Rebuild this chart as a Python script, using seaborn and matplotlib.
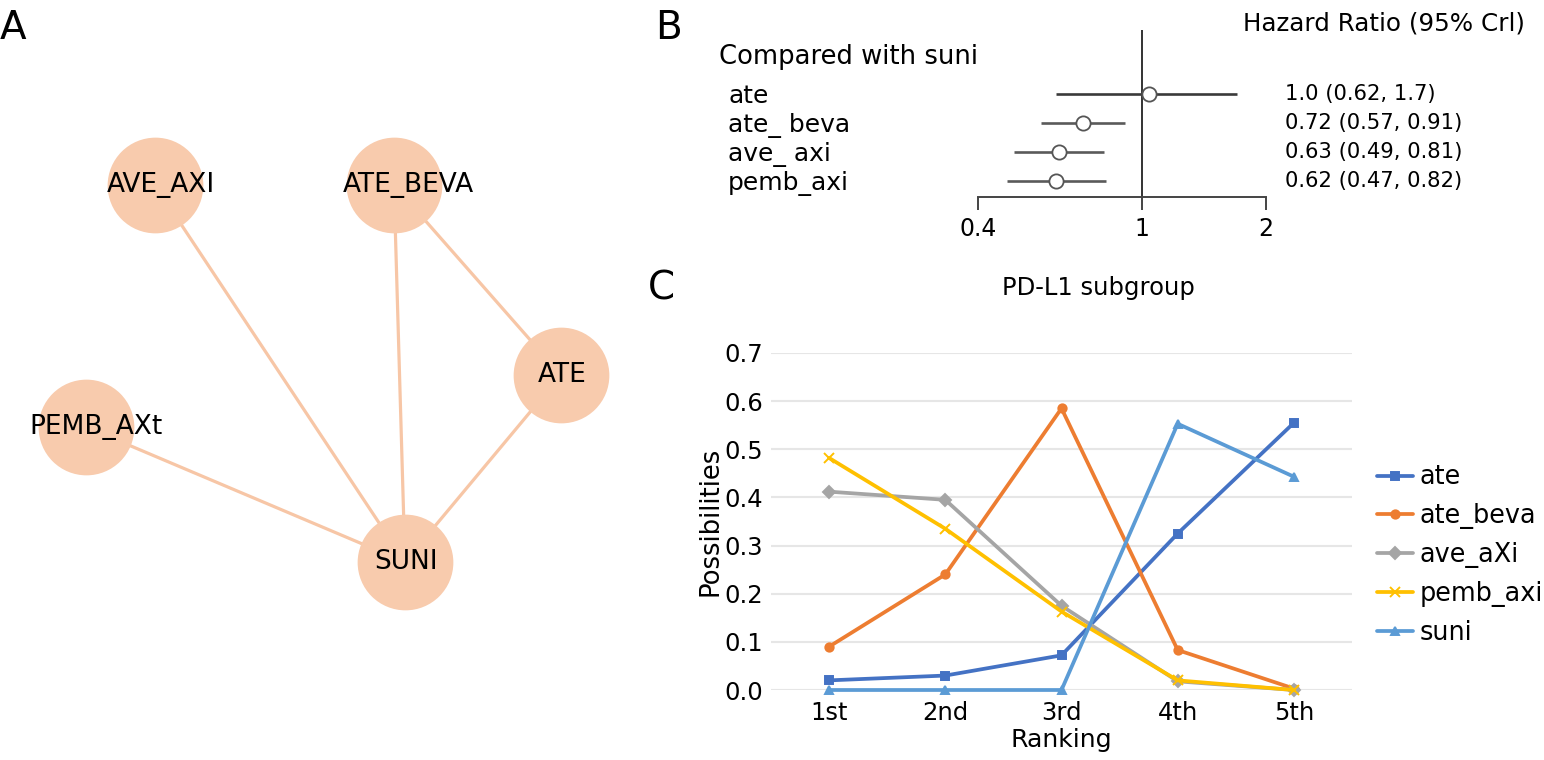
import numpy as np
import pandas as pd
import seaborn as sns
import matplotlib.pyplot as plt
from matplotlib import transforms
from matplotlib.colors import to_hex

# panel A: network of treatments (positions as laid out in the picture, pixels)
node_names = ['AVE_AXI', 'ATE_BEVA', 'ATE', 'PEMB_AXt', 'SUNI']
node_x = [155, 394, 561, 86, 405]
node_y = [185, 185, 375, 427, 562]
label_dx = [6, 14, 1, 10, 1]
edges = [('AVE_AXI', 'SUNI'), ('ATE_BEVA', 'SUNI'), ('ATE_BEVA', 'ATE'),
         ('ATE', 'SUNI'), ('PEMB_AXt', 'SUNI')]

# panel B: hazard ratios vs suni
hr_names = ['ate', 'ate_ beva', 'ave_ axi', 'pemb_axi']
hr = [1.04, 0.72, 0.63, 0.62]
hr_lo = [0.62, 0.57, 0.49, 0.47]
hr_hi = [1.7, 0.91, 0.81, 0.82]
hr_text = ['1.0 (0.62, 1.7)', '0.72 (0.57, 0.91)', '0.63 (0.49, 0.81)', '0.62 (0.47, 0.82)']
hr_ticks = [0.4, 1, 2]

# panel C: ranking probabilities
rank_labels = ['1st', '2nd', '3rd', '4th', '5th']
ate = [0.020, 0.030, 0.072, 0.325, 0.555]
ate_beva = [0.090, 0.240, 0.585, 0.083, 0.003]
ave_axi = [0.412, 0.395, 0.175, 0.018, 0.0]
pemb_axi = [0.482, 0.335, 0.163, 0.020, 0.0]
suni = [0.0, 0.0, 0.0, 0.553, 0.443]
series_names = ['ate', 'ate_beva', 'ave_aXi', 'pemb_axi', 'suni']
series_vals = [ate, ate_beva, ave_axi, pemb_axi, suni]

sns.set_style('white')
plt.rcParams['font.family'] = ['DejaVu Sans']
plt.rcParams['text.color'] = 'black'
plt.rcParams['axes.labelcolor'] = 'black'
plt.rcParams['xtick.color'] = 'black'
plt.rcParams['ytick.color'] = 'black'

W, H = 1544, 760
fig = plt.figure(figsize=(W / 100, H / 100), dpi=100)

# ---------------- A ----------------
ax_a = fig.add_axes([0, 0, 640 / W, 1])
pos = {n: (x, y) for n, x, y in zip(node_names, node_x, node_y)}
for a, b in edges:
    ax_a.plot([pos[a][0], pos[b][0]], [pos[a][1], pos[b][1]],
              color='#F7C6A6', lw=2.3, zorder=1, solid_capstyle='round')
sns.scatterplot(x=node_x, y=node_y, s=4750, color='#F8CBAD', linewidth=0,
                ax=ax_a, zorder=2, legend=False)
for n, x, y, dx in zip(node_names, node_x, node_y, label_dx):
    ax_a.text(x + dx, y, n, ha='center', va='center', fontsize=19, zorder=3)
ax_a.set_xlim(0, 640)
ax_a.set_ylim(H, 0)
ax_a.axis('off')
fig.text(0.0, 1 - 28 / H, 'A', fontsize=28, ha='left', va='center')

# ---------------- B ----------------
b_left, b_right, b_top, b_bot = 978, 1266, 30, 197
ax_b = fig.add_axes([b_left / W, 1 - b_bot / H, (b_right - b_left) / W, (b_bot - b_top) / H])
row0, step = 94, 29
rows = np.arange(len(hr))
ax_b.set_xscale('log')
ax_b.axvline(1, color='#333333', lw=1.4, zorder=1)
line_cols = ['#3a3a3a', '#5a5a5a', '#5a5a5a', '#5a5a5a']
ax_b.hlines(rows, hr_lo, hr_hi, colors=line_cols, lw=1.9, zorder=2)
sns.scatterplot(x=hr, y=rows, s=105, color='white', edgecolor='#555555',
                linewidth=1.3, ax=ax_b, zorder=3, legend=False)
ax_b.set_xlim(0.4, 2)
ax_b.set_ylim((b_bot - row0) / step, (b_top - row0) / step)
ax_b.set_xticks(hr_ticks)
ax_b.set_xticklabels([str(t) for t in hr_ticks])
ax_b.xaxis.set_minor_locator(plt.NullLocator())
ax_b.set_yticks([])
for s in ['left', 'right', 'top']:
    ax_b.spines[s].set_visible(False)
ax_b.spines['bottom'].set_color('#444444')
ax_b.spines['bottom'].set_linewidth(1.4)
ax_b.tick_params(axis='x', bottom=True, direction='out', length=9.4, width=1.4,
                 color='#444444', labelsize=17, pad=5)
ax_b.set_facecolor('none')
blend = transforms.blended_transform_factory(fig.transFigure, ax_b.transData)
for r, name, txt in zip(rows, hr_names, hr_text):
    ax_b.text(728 / W, r + 0.08, name, transform=blend, ha='left', va='center', fontsize=18)
    ax_b.text(1285 / W, r, txt, transform=blend, ha='left', va='center', fontsize=15.2)
fig.text(719 / W, 1 - 57 / H, 'Compared with suni', fontsize=18.6, ha='left', va='center')
fig.text(1525 / W, 1 - 23 / H, 'Hazard Ratio (95% Crl)', fontsize=17.7, ha='right', va='center')
fig.text(655 / W, 1 - 28 / H, 'B', fontsize=28, ha='left', va='center')

# ---------------- C ----------------
c_left, c_right, c_top, c_bot = 771, 1352, 353, 690
ax_c = fig.add_axes([c_left / W, 1 - c_bot / H, (c_right - c_left) / W, (c_bot - c_top) / H])
xs = np.arange(len(rank_labels))
df = pd.DataFrame({
    'Ranking': np.tile(xs, len(series_names)),
    'Possibilities': np.concatenate(series_vals),
    'treatment': np.repeat(series_names, len(rank_labels)),
})
palette = {'ate': '#4472C4', 'ate_beva': '#ED7D31', 'ave_aXi': '#A5A5A5',
           'pemb_axi': '#FFC000', 'suni': '#5B9BD5'}
markers = {'ate': 's', 'ate_beva': 'o', 'ave_aXi': 'D', 'pemb_axi': 'X', 'suni': '^'}
sns.lineplot(data=df, x='Ranking', y='Possibilities', hue='treatment', style='treatment',
             hue_order=series_names, style_order=series_names, palette=palette,
             markers=markers, dashes=False, linewidth=2.7, markersize=6, ax=ax_c)


def fix_marker(ln):
    # Excel-like: marker edge in line colour, thin cross for pemb_axi
    ln.set_markeredgecolor(ln.get_color())
    ln.set_markeredgewidth(1.4)
    if to_hex(ln.get_color()).lower() == palette['pemb_axi'].lower():
        ln.set_marker('x')
        ln.set_markersize(7)


for ln in ax_c.get_lines():
    fix_marker(ln)
    ln.set_clip_on(False)
ax_c.set_xlim(-0.5, len(rank_labels) - 0.5)
ax_c.set_ylim(0, 0.7)
ax_c.set_xticks(xs)
ax_c.set_xticklabels(rank_labels)
yt = np.arange(0, 0.71, 0.1)
ax_c.set_yticks(yt)
ax_c.set_yticklabels([f'{v:.1f}' for v in yt])
ax_c.grid(axis='y', color='#E6E6E6', lw=1.5)
ax_c.set_axisbelow(True)
for s in ax_c.spines.values():
    s.set_visible(False)
ax_c.tick_params(axis='both', length=0, labelsize=17.5)
ax_c.tick_params(axis='x', pad=8)
ax_c.tick_params(axis='y', pad=6)
ax_c.set_xlabel('Ranking', fontsize=18.2, labelpad=2)
ax_c.set_ylabel('Possibilities', fontsize=18.6, labelpad=0)
handles, labels = ax_c.get_legend_handles_labels()
for h in handles:
    fix_marker(h)
ax_c.legend(handles, labels, loc='center left', bbox_to_anchor=(1377 / W, 1 - 555 / H),
            bbox_transform=fig.transFigure, frameon=False, fontsize=18.4,
            handlelength=1.4, handletextpad=0.25, labelspacing=0.5,
            borderpad=0, borderaxespad=0)
fig.text(1098 / W, 1 - 288 / H, 'PD-L1 subgroup', fontsize=17.5, ha='center', va='center')
fig.text(648 / W, 1 - 289 / H, 'C', fontsize=28, ha='left', va='center')

fig.savefig('out.png', dpi=100)
